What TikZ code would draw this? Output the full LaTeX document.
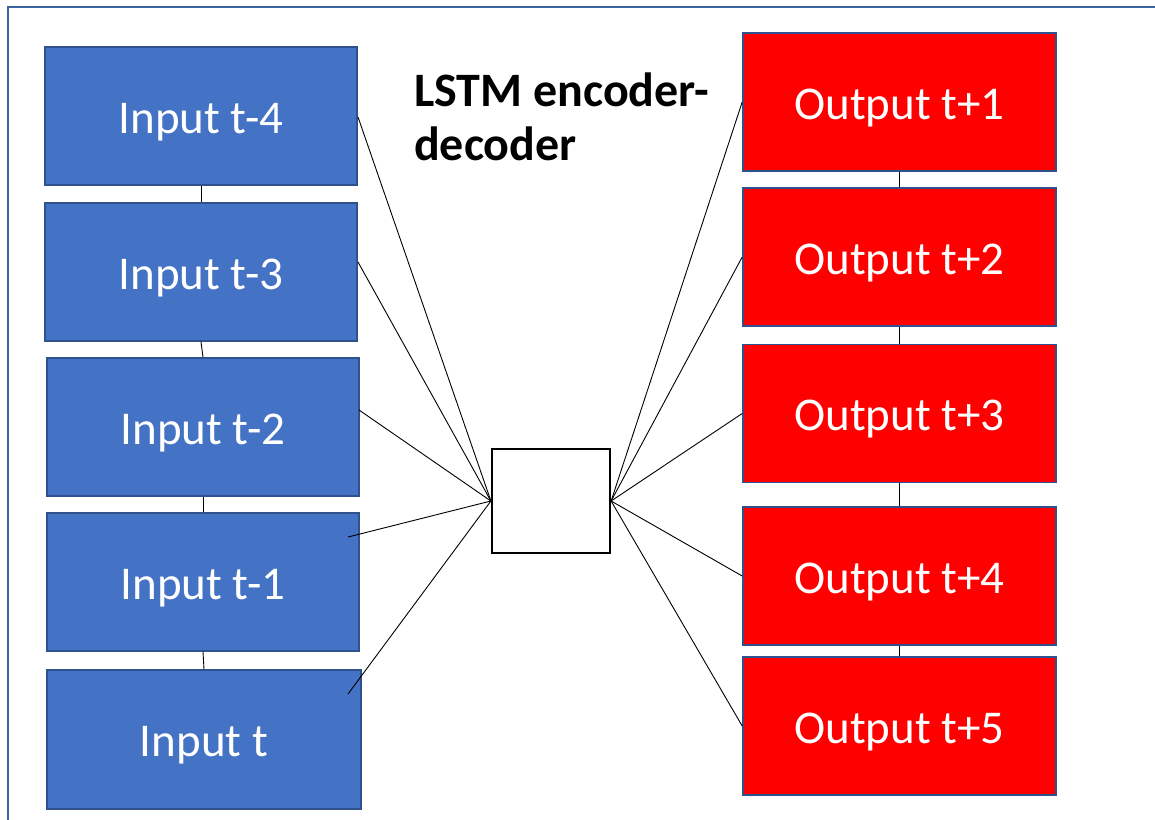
\documentclass[tikz,border=0pt]{standalone}
\usepackage{fontspec}
\setmainfont{Carlito}
\definecolor{inblue}{HTML}{4472C4}
\definecolor{edgeblue}{HTML}{2F528F}
\definecolor{framecol}{HTML}{3F62A0}
\definecolor{outred}{HTML}{FF0000}
\tikzset{
  cell/.style={draw=edgeblue, line width=1.6pt, text=white,
    minimum width=312pt, minimum height=138pt, inner sep=0pt,
    text height=34pt, text depth=0pt,
    font=\fontsize{47}{56}\selectfont},
  incell/.style={cell, fill=inblue},
  outcell/.style={cell, fill=outred},
  core/.style={draw=black, line width=2.2pt, fill=white,
    minimum width=118pt, minimum height=104pt, inner sep=0pt},
  wire/.style={draw=black, line width=0.9pt},
  title/.style={font=\bfseries\fontsize{48}{54}\selectfont, align=left, inner sep=0pt}
}
\begin{document}
\begin{tikzpicture}[x=1pt, y=-1pt]
  \useasboundingbox (0,0) rectangle (1155,819);
  % outer frame (open to the right and bottom)
  \draw[framecol, line width=2pt] (1160,7) -- (8,7) -- (8,824);

  % input sequence
  \node[incell] (in4) at (201,116)   {Input t-4};
  \node[incell] (in3) at (201,272)   {Input t-3};
  \node[incell] (in2) at (203,427)   {Input t-2};
  \node[incell] (in1) at (203,582)   {Input t-1};
  \node[incell, minimum width=314pt, minimum height=139pt] (in0) at (204,739.5) {Input t};

  % output sequence
  \node[outcell, minimum width=313pt] (out1) at (899.5,102)   {Output t+1};
  \node[outcell, minimum width=313pt] (out2) at (899.5,257)   {Output t+2};
  \node[outcell, minimum width=313pt] (out3) at (899.5,413.5) {Output t+3};
  \node[outcell, minimum width=313pt] (out4) at (899.5,576)   {Output t+4};
  \node[outcell, minimum width=313pt] (out5) at (899.5,726)   {Output t+5};

  % model block
  \node[core] (lstm) at (551,501) {};

  % title (base anchor sits on the last line)
  \node[title, anchor=base west] (ttl) at (414,160) {LSTM encoder-\\decoder};

  % chain links
  \draw[wire] (in4.south) -- (in3.north);
  \draw[wire] (in3.south) -- (in2.north);
  \draw[wire] (in2.south) -- (in1.north);
  \draw[wire] (in1.south) -- (in0.north);
  \draw[wire] (out1.south) -- (out2.north);
  \draw[wire] (out2.south) -- (out3.north);
  \draw[wire] (out3.south) -- (out4.north);
  \draw[wire] (out4.south) -- (out5.north);

  % attachment points on the inputs
  \coordinate (a4) at (358,117);
  \coordinate (a3) at (358,262);
  \coordinate (a2) at (359,410);
  \coordinate (a1) at (348,537);
  \coordinate (a0) at (348,694);

  % fan-in and fan-out
  \foreach \p in {a4,a3,a2,a1,a0}
    \draw[wire] (\p) -- (lstm.west);
  \foreach \q in {out1,out2,out3,out4,out5}
    \draw[wire] (lstm.east) -- (\q.west);
\end{tikzpicture}
\end{document}
